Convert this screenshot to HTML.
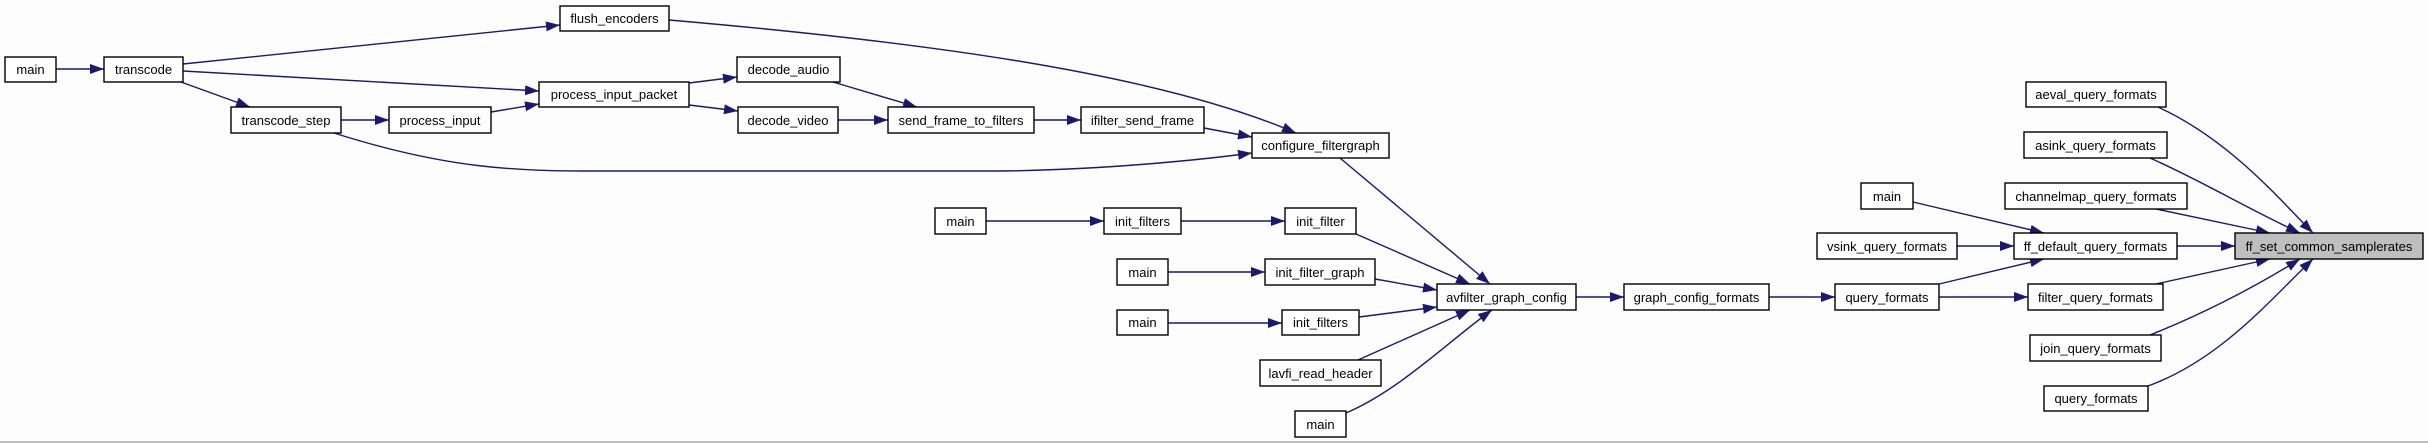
<!DOCTYPE html>
<html><head><meta charset="utf-8"><style>
html,body{margin:0;padding:0;background:#fcfdfc;}
svg{display:block}
text{font-family:"Liberation Sans",sans-serif;font-size:13px;fill:#000;}
</style></head><body>
<svg width="2428" height="443" viewBox="0 0 2428 443" xmlns="http://www.w3.org/2000/svg">
<defs>
<marker id="a" markerUnits="userSpaceOnUse" markerWidth="15" markerHeight="11" refX="14" refY="5" orient="auto">
<path d="M0,0 L14,5 L0,10 z" fill="#191970"/></marker>
</defs>
<rect x="0" y="0" width="2428" height="443" fill="#fcfdfc"/>
<line x1="0" y1="442" x2="2428" y2="442" stroke="#aaa" stroke-width="1.5"/>
<g fill="none" stroke="#191970" stroke-width="1.4" marker-end="url(#a)">
<path d="M56,69 L104,69"/>
<path d="M183,64 L560,25"/>
<path d="M183,71 L539,91"/>
<path d="M181,82 L250,107"/>
<path d="M341,120 L389,120"/>
<path d="M491,112 L539,104"/>
<path d="M689,83 L737,77"/>
<path d="M689,105 L738,111"/>
<path d="M833,82 L917,107"/>
<path d="M838,120 L888,120"/>
<path d="M1034,120 L1081,120"/>
<path d="M1204,128 L1252,137"/>
<path d="M669,20 C900,40 1150,70 1296,133"/>
<path d="M334,133 C450,170 520,171 600,171 L1000,171 C1100,170 1200,160 1252,153"/>
<path d="M1340,158 L1490,284"/>
<path d="M986,221 L1104,221"/>
<path d="M1181,221 L1285,221"/>
<path d="M1356,234 L1470,284"/>
<path d="M1168,272 L1265,272"/>
<path d="M1375,279 L1437,290"/>
<path d="M1168,323 L1282,323"/>
<path d="M1359,317 L1437,307"/>
<path d="M1358,360 L1470,310"/>
<path d="M1346,413 C1400,390 1450,340 1492,310"/>
<path d="M1576,297 L1624,297"/>
<path d="M1769,297 L1835,297"/>
<path d="M1939,284 L2044,259"/>
<path d="M1939,297 L2028,297"/>
<path d="M1913,202 L2044,233"/>
<path d="M1957,246 L2014,246"/>
<path d="M2177,246 L2235,246"/>
<path d="M2158,107 C2230,140 2280,200 2313,233"/>
<path d="M2150,158 C2200,180 2250,210 2300,233"/>
<path d="M2156,209 L2270,233"/>
<path d="M2156,284 L2270,259"/>
<path d="M2150,335 C2200,315 2250,290 2300,259"/>
<path d="M2148,386 C2220,360 2270,300 2313,259"/>
</g>
<g stroke="#000" stroke-width="1.4" fill="#fff">
<rect x="5" y="57" width="51" height="25"/>
<rect x="104" y="57" width="79" height="25"/>
<rect x="560" y="6" width="109" height="25"/>
<rect x="539" y="82" width="150" height="25"/>
<rect x="231" y="107" width="110" height="26"/>
<rect x="389" y="107" width="102" height="26"/>
<rect x="737" y="57" width="103" height="25"/>
<rect x="738" y="107" width="100" height="26"/>
<rect x="888" y="107" width="146" height="26"/>
<rect x="1081" y="107" width="123" height="26"/>
<rect x="1252" y="133" width="137" height="25"/>
<rect x="935" y="208" width="51" height="26"/>
<rect x="1104" y="208" width="77" height="26"/>
<rect x="1285" y="208" width="71" height="26"/>
<rect x="1117" y="259" width="51" height="26"/>
<rect x="1265" y="259" width="110" height="26"/>
<rect x="1117" y="310" width="51" height="25"/>
<rect x="1282" y="310" width="77" height="25"/>
<rect x="1260" y="360" width="121" height="26"/>
<rect x="1295" y="411" width="51" height="26"/>
<rect x="1437" y="284" width="139" height="26"/>
<rect x="1624" y="284" width="145" height="26"/>
<rect x="1835" y="284" width="104" height="26"/>
<rect x="2026" y="82" width="140" height="25"/>
<rect x="2024" y="132" width="143" height="26"/>
<rect x="1861" y="183" width="52" height="26"/>
<rect x="2005" y="183" width="182" height="26"/>
<rect x="1817" y="233" width="140" height="26"/>
<rect x="2014" y="233" width="163" height="26"/>
<rect x="2235" y="233" width="188" height="26" fill="#bfbfbf"/>
<rect x="2028" y="284" width="135" height="26"/>
<rect x="2030" y="335" width="131" height="26"/>
<rect x="2044" y="386" width="104" height="25"/>
</g>
<g text-anchor="middle">
<text x="30.5" y="74">main</text>
<text x="143.5" y="74">transcode</text>
<text x="614.5" y="23">flush_encoders</text>
<text x="614" y="99">process_input_packet</text>
<text x="286" y="125">transcode_step</text>
<text x="440" y="125">process_input</text>
<text x="788.5" y="74">decode_audio</text>
<text x="788" y="125">decode_video</text>
<text x="961" y="125">send_frame_to_filters</text>
<text x="1142.5" y="125">ifilter_send_frame</text>
<text x="1320.5" y="150">configure_filtergraph</text>
<text x="960.5" y="226">main</text>
<text x="1142.5" y="226">init_filters</text>
<text x="1320.5" y="226">init_filter</text>
<text x="1142.5" y="277">main</text>
<text x="1320" y="277">init_filter_graph</text>
<text x="1142.5" y="327">main</text>
<text x="1320.5" y="327">init_filters</text>
<text x="1320.5" y="378">lavfi_read_header</text>
<text x="1320.5" y="429">main</text>
<text x="1506.5" y="302">avfilter_graph_config</text>
<text x="1696.5" y="302">graph_config_formats</text>
<text x="1887" y="302">query_formats</text>
<text x="2096" y="99">aeval_query_formats</text>
<text x="2095.5" y="150">asink_query_formats</text>
<text x="1887" y="201">main</text>
<text x="2096" y="201">channelmap_query_formats</text>
<text x="1887" y="251">vsink_query_formats</text>
<text x="2095.5" y="251">ff_default_query_formats</text>
<text x="2329" y="251">ff_set_common_samplerates</text>
<text x="2095.5" y="302">filter_query_formats</text>
<text x="2095.5" y="353">join_query_formats</text>
<text x="2096" y="403">query_formats</text>
</g>
</svg>
</body></html>
